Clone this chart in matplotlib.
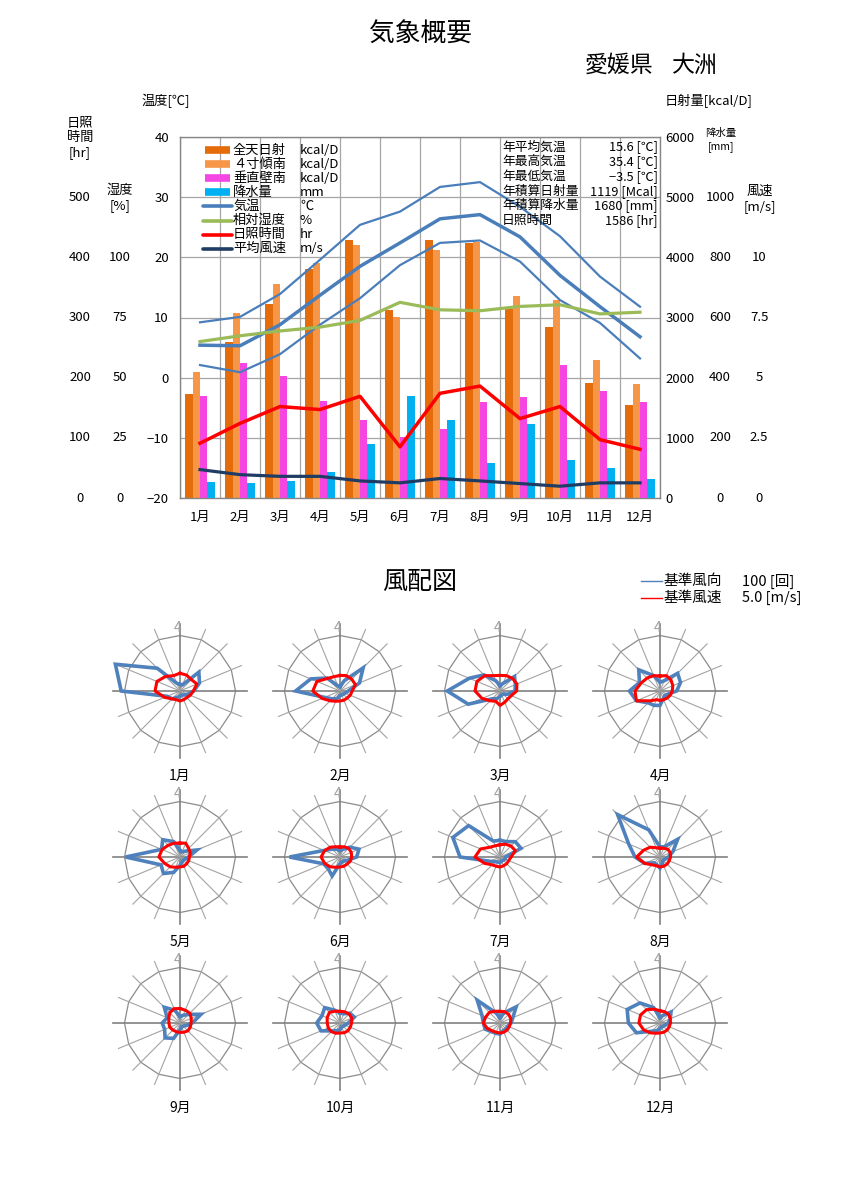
import numpy as np
import matplotlib
matplotlib.use('Agg')
import matplotlib.pyplot as plt
from matplotlib.transforms import blended_transform_factory
from matplotlib.lines import Line2D

plt.rcParams['font.family'] = ['Noto Sans CJK JP', 'DejaVu Sans']

# ---------------- data ----------------
months = ['1月', '2月', '3月', '4月', '5月', '6月', '7月', '8月', '9月', '10月', '11月', '12月']
solar_horizontal = [1730, 2600, 3230, 3810, 4280, 3130, 4280, 4230, 3140, 2840, 1910, 1540]  # kcal/D
solar_tilt4 = [2090, 3080, 3560, 3910, 4210, 3010, 4130, 4260, 3350, 3290, 2290, 1890]       # kcal/D
solar_vertical = [1690, 2250, 2030, 1610, 1290, 1020, 1140, 1590, 1680, 2210, 1780, 1590]    # kcal/D
precipitation = [53, 50, 57, 87, 180, 339, 259, 117, 246, 126, 99, 62]                        # mm
temp_mean = [5.4, 5.3, 8.8, 13.7, 18.5, 22.4, 26.4, 27.1, 23.4, 17.0, 11.8, 6.8]
temp_max = [9.2, 10.1, 13.9, 19.6, 25.4, 27.6, 31.7, 32.5, 28.4, 23.5, 16.8, 11.8]
temp_min = [2.1, 0.9, 3.9, 8.8, 13.2, 18.7, 22.4, 22.8, 19.3, 12.9, 9.1, 3.2]
humidity = [65.0, 67.4, 69.4, 71.0, 73.8, 81.3, 78.2, 77.8, 79.6, 80.3, 76.5, 77.2]
sunshine = [91, 124, 152, 147, 169, 85, 174, 186, 132, 152, 97, 81]
wind_speed = [1.18, 0.97, 0.90, 0.90, 0.71, 0.63, 0.81, 0.71, 0.60, 0.49, 0.63, 0.63]

stat_labels = ['年平均気温', '年最高気温', '年最低気温', '年積算日射量', '年積算降水量', '日照時間']
stat_values = ['15.6', '35.4', '−3.5', '1119', '1680', '1586']
stat_units = ['[℃]', '[℃]', '[℃]', '[Mcal]', '[mm]', '[hr]']

temp_ticks = [-20, -10, 0, 10, 20, 30, 40]
kcal_ticks = [0, 1000, 2000, 3000, 4000, 5000, 6000]
sun_ticks = [0, 100, 200, 300, 400, 500]
hum_ticks = [0, 25, 50, 75, 100]
prec_ticks = [0, 200, 400, 600, 800, 1000]
wind_ticks = [0, 2.5, 5, 7.5, 10]

# wind roses: 16 directions N, NNE, NE, ... NNW (clockwise)
REF_COUNT = 100    # 基準風向 [回]
REF_SPEED = 5.0    # 基準風速 [m/s]
rose_counts = [
    [12, 12, 48, 38, 25, 15, 10, 8, 10, 12, 20, 25, 106, 126, 58, 15],
    [8, 20, 59, 38, 15, 10, 8, 8, 8, 15, 20, 30, 80, 57, 33, 10],
    [10, 15, 37, 30, 27, 15, 8, 8, 10, 15, 20, 62, 95, 60, 41, 20],
    [16, 20, 45, 40, 30, 15, 12, 15, 26, 28, 30, 46, 55, 40, 54, 30],
    [12, 10, 15, 33, 15, 10, 8, 10, 15, 30, 42, 37, 98, 36, 44, 30],
    [12, 15, 25, 37, 30, 15, 10, 10, 12, 37, 30, 32, 91, 31, 20, 15],
    [30, 30, 39, 41, 10, 10, 8, 8, 10, 10, 12, 20, 72, 92, 80, 31],
    [18, 20, 45, 25, 15, 10, 8, 12, 20, 15, 15, 30, 45, 61, 108, 53],
    [12, 15, 22, 41, 22, 12, 8, 8, 12, 30, 38, 30, 32, 25, 40, 25],
    [18, 18, 25, 28, 15, 10, 8, 8, 12, 15, 20, 37, 42, 35, 39, 25],
    [10, 20, 41, 25, 20, 15, 15, 15, 20, 20, 22, 29, 30, 35, 58, 20],
    [10, 15, 28, 20, 15, 10, 8, 8, 10, 15, 21, 46, 57, 64, 51, 30],
]
rose_speeds = [
    [1.6, 1.55, 1.45, 1.65, 1.2, 1.0, 0.85, 0.85, 0.9, 0.85, 1.0, 1.5, 2.25, 2.25, 1.85, 1.5],
    [1.4, 1.5, 1.5, 1.5, 1.1, 1.0, 0.9, 0.9, 0.9, 1.0, 1.25, 1.75, 2.45, 2.25, 1.6, 1.4],
    [1.4, 1.5, 1.6, 1.65, 1.5, 1.1, 1.0, 1.1, 1.3, 1.0, 1.25, 1.75, 2.25, 2.25, 1.95, 1.5],
    [1.35, 1.5, 1.4, 1.25, 1.1, 1.0, 0.9, 0.85, 0.85, 0.85, 1.25, 2.3, 2.25, 1.85, 1.65, 1.5],
    [1.25, 1.35, 1.1, 1.0, 0.85, 0.85, 0.85, 0.9, 0.9, 1.0, 1.25, 1.5, 1.9, 1.75, 1.5, 1.35],
    [0.9, 1.0, 1.1, 1.1, 1.05, 1.0, 0.9, 0.9, 0.9, 1.0, 1.25, 1.5, 1.7, 1.5, 1.25, 1.0],
    [1.1, 1.25, 1.4, 1.5, 1.0, 0.85, 0.85, 0.85, 0.9, 0.9, 1.0, 1.5, 2.25, 1.9, 1.25, 1.1],
    [0.8, 0.85, 1.0, 1.0, 0.95, 0.9, 0.9, 0.9, 0.9, 0.85, 1.0, 1.5, 2.1, 1.6, 1.25, 0.9],
    [1.3, 1.25, 1.25, 1.1, 1.0, 1.0, 1.0, 0.9, 0.85, 0.85, 0.9, 1.0, 1.0, 1.1, 1.3, 1.4],
    [1.05, 1.1, 1.15, 1.15, 1.05, 1.0, 1.0, 0.95, 0.9, 1.0, 1.1, 1.15, 1.15, 1.25, 1.35, 1.15],
    [1.05, 1.1, 1.1, 1.05, 0.95, 0.9, 0.9, 0.9, 0.9, 0.9, 1.0, 1.25, 1.5, 1.4, 1.35, 1.15],
    [1.1, 1.1, 1.1, 1.0, 0.95, 0.9, 0.9, 0.9, 0.9, 1.0, 1.25, 1.6, 1.9, 1.9, 1.7, 1.35],
]

# ---------------- layout helpers ----------------
W, H = 841, 1204
fig = plt.figure(figsize=(W / 100, H / 100), dpi=100)


def fx(px):
    return px / W


def fy(py):
    return 1 - py / H


FS = 9.5
GRID = '#a6a6a6'
SPINE = '#868686'
C_SOLAR = '#e46c0a'
C_TILT = '#f79646'
C_VERT = '#f545e3'
C_PREC = '#00b0f0'
C_TEMP = '#4a7ebb'
C_HUM = '#9bbb59'
C_SUN = '#ff0000'
C_WIND = '#1f3c64'

# ---------------- titles ----------------
fig.text(fx(420), fy(35), '気象概要', ha='center', va='center', fontsize=18.5)
fig.text(fx(585), fy(65), '愛媛県', ha='left', va='center', fontsize=16.5)
fig.text(fx(672), fy(65), '大洲', ha='left', va='center', fontsize=16.5)

# ---------------- main chart ----------------
L, R, T, B = 180, 660, 137, 498
ax = fig.add_axes([fx(L), fy(B), (R - L) / W, (B - T) / H])
ax_p = ax.twinx()
ax_t = ax.twinx()
ax_h = ax.twinx()
ax_s = ax.twinx()
ax_w = ax.twinx()

x = np.arange(1, 13)
bw = 0.183
ax.bar(x - 1.5 * bw, solar_horizontal, width=bw, color=C_SOLAR, zorder=2)
ax.bar(x - 0.5 * bw, solar_tilt4, width=bw, color=C_TILT, zorder=2)
ax.bar(x + 0.5 * bw, solar_vertical, width=bw, color=C_VERT, zorder=2)
ax_p.bar(x + 1.5 * bw, precipitation, width=bw, color=C_PREC)

ax_t.plot(x, temp_max, color=C_TEMP, lw=1.6)
ax_t.plot(x, temp_min, color=C_TEMP, lw=1.6)
ax_t.plot(x, temp_mean, color=C_TEMP, lw=2.5)
ax_h.plot(x, humidity, color=C_HUM, lw=2.3)
ax_s.plot(x, sunshine, color=C_SUN, lw=2.5)
ax_w.plot(x, wind_speed, color=C_WIND, lw=2.3)

ax.set_xlim(0.5, 12.5)
ax.set_ylim(0, 6000)
ax_p.set_ylim(0, 1200)
ax_t.set_ylim(-20, 40)
ax_h.set_ylim(0, 150)
ax_s.set_ylim(0, 600)
ax_w.set_ylim(0, 15)

ax.set_yticks(kcal_ticks)
ax.set_yticklabels([str(v) for v in kcal_ticks])
ax.set_xticks(x)
ax.set_xticklabels(months)
ax.set_xticks(np.arange(0.5, 13, 1), minor=True)
ax.tick_params(axis='x', which='both', length=0, labelsize=FS, pad=9)
ax.tick_params(axis='y', left=False, right=True, labelleft=False, labelright=True,
               length=0, labelsize=FS, pad=4)
ax.grid(True, axis='y', which='major', color=GRID, lw=0.9, zorder=0)
ax.grid(True, axis='x', which='minor', color=GRID, lw=0.9, zorder=0)
ax.set_axisbelow(True)
for s in ax.spines.values():
    s.set_color(SPINE)
    s.set_linewidth(1.0)

ax_t.yaxis.tick_left()
ax_t.set_yticks(temp_ticks)
ax_t.set_yticklabels([str(v).replace('-', '−') for v in temp_ticks])
ax_t.tick_params(axis='y', length=0, labelsize=FS, pad=8)
ax_t.set_frame_on(False)
for a in (ax_p, ax_h, ax_s, ax_w):
    a.set_frame_on(False)
    a.yaxis.set_visible(False)

# extra scale labels placed through each axis' own data transform
def scale_labels(axis, ticks, xpx, fmt):
    tr = blended_transform_factory(fig.transFigure, axis.transData)
    for v in ticks:
        axis.text(fx(xpx), v, fmt(v), transform=tr, ha='center', va='center',
                  fontsize=FS, clip_on=False)

scale_labels(ax_s, sun_ticks, 80, lambda v: str(v))
scale_labels(ax_h, hum_ticks, 120, lambda v: str(v))
scale_labels(ax_p, prec_ticks, 720, lambda v: str(v))
scale_labels(ax_w, wind_ticks, 759, lambda v: ('%g' % v))

# axis captions
fig.text(fx(166), fy(101), '温度[℃]', ha='center', va='center', fontsize=FS)
fig.text(fx(80), fy(138), '日照\n時間\n[hr]', ha='center', va='center', fontsize=FS,
         linespacing=1.15)
fig.text(fx(120), fy(198), '湿度\n[%]', ha='center', va='center', fontsize=FS, linespacing=1.15)
fig.text(fx(665), fy(101), '日射量[kcal/D]', ha='left', va='center', fontsize=FS)
fig.text(fx(721), fy(140), '降水量\n[mm]', ha='center', va='center', fontsize=7.5,
         linespacing=1.3)
fig.text(fx(760), fy(199), '風速\n[m/s]', ha='center', va='center', fontsize=FS, linespacing=1.15)

# legend (manual, two columns)
leg_items = [
    ('全天日射', 'kcal/D', C_SOLAR, 'bar'),
    ('４寸傾南', 'kcal/D', C_TILT, 'bar'),
    ('垂直壁南', 'kcal/D', C_VERT, 'bar'),
    ('降水量', 'mm', C_PREC, 'bar'),
    ('気温', '℃', C_TEMP, 'line'),
    ('相対湿度', '%', C_HUM, 'line'),
    ('日照時間', 'hr', C_SUN, 'line'),
    ('平均風速', 'm/s', C_WIND, 'line'),
]
for k, (lab, unit, col, kind) in enumerate(leg_items):
    yy = 150 + k * 14.1
    if kind == 'bar':
        fig.add_artist(Line2D([fx(205), fx(230)], [fy(yy), fy(yy)], color=col, lw=5.5,
                              solid_capstyle='butt'))
    else:
        fig.add_artist(Line2D([fx(203), fx(232)], [fy(yy), fy(yy)], color=col, lw=2.6,
                              solid_capstyle='round'))
    fig.text(fx(233), fy(yy), lab, ha='left', va='center', fontsize=FS)
    fig.text(fx(300), fy(yy), unit, ha='left', va='center', fontsize=FS)

# annual statistics
for k, (lab, val, unit) in enumerate(zip(stat_labels, stat_values, stat_units)):
    yy = 147 + k * 14.7
    fig.text(fx(502), fy(yy), lab, ha='left', va='center', fontsize=9.2)
    fig.text(fx(658), fy(yy), val + ' ' + unit, ha='right', va='center', fontsize=9.2)

# ---------------- wind roses ----------------
fig.text(fx(420), fy(582), '風配図', ha='center', va='center', fontsize=18)
fig.add_artist(Line2D([fx(641), fx(662)], [fy(581), fy(581)], color='#4f81bd', lw=1.0))
fig.add_artist(Line2D([fx(641), fx(662)], [fy(598), fy(598)], color='#ff0000', lw=1.0))
fig.text(fx(664), fy(581), '基準風向', ha='left', va='center', fontsize=10.5)
fig.text(fx(742), fy(581), '%d [回]' % REF_COUNT, ha='left', va='center', fontsize=10.5)
fig.text(fx(664), fy(598), '基準風速', ha='left', va='center', fontsize=10.5)
fig.text(fx(742), fy(598), '%.1f [m/s]' % REF_SPEED, ha='left', va='center', fontsize=10.5)

rose_cx = [180, 340, 500, 660]
rose_cy = [691, 857, 1023]
R_PX = 55.5
EXT = 1.32
ang = np.deg2rad(np.arange(16) * 22.5)
for i in range(12):
    cx = rose_cx[i % 4]
    cy = rose_cy[i // 4]
    half = EXT * R_PX
    rax = fig.add_axes([fx(cx - half), fy(cy + half), 2 * half / W, 2 * half / H])
    rax.set_xlim(-EXT, EXT)
    rax.set_ylim(-EXT, EXT)
    rax.axis('off')
    ring_a = np.append(ang, ang[0])
    rax.plot(np.sin(ring_a), np.cos(ring_a), color='#8c8c8c', lw=0.9, zorder=1)
    for k, a in enumerate(ang):
        main = (k % 4 == 0)
        rax.plot([0, 1.2 * np.sin(a)], [0, 1.2 * np.cos(a)],
                 color='#808080' if main else '#a3a3a3', lw=1.2 if main else 0.8, zorder=1)
    rb = np.array(rose_counts[i] + rose_counts[i][:1], dtype=float) / REF_COUNT
    rr = np.array(rose_speeds[i] + rose_speeds[i][:1], dtype=float) / REF_SPEED
    rax.plot(rb * np.sin(ring_a), rb * np.cos(ring_a), color='#4f81bd', lw=2.6, zorder=3,
             solid_joinstyle='miter')
    rax.plot(rr * np.sin(ring_a), rr * np.cos(ring_a), color='#ff0000', lw=2.2, zorder=4)
    rax.text(-0.04, 1.13, '4', ha='center', va='center', fontsize=10, color='#a0a0a0', zorder=2)
    fig.text(fx(cx), fy(cy + 85), months[i], ha='center', va='center', fontsize=10)

fig.savefig('out.png', dpi=100)
